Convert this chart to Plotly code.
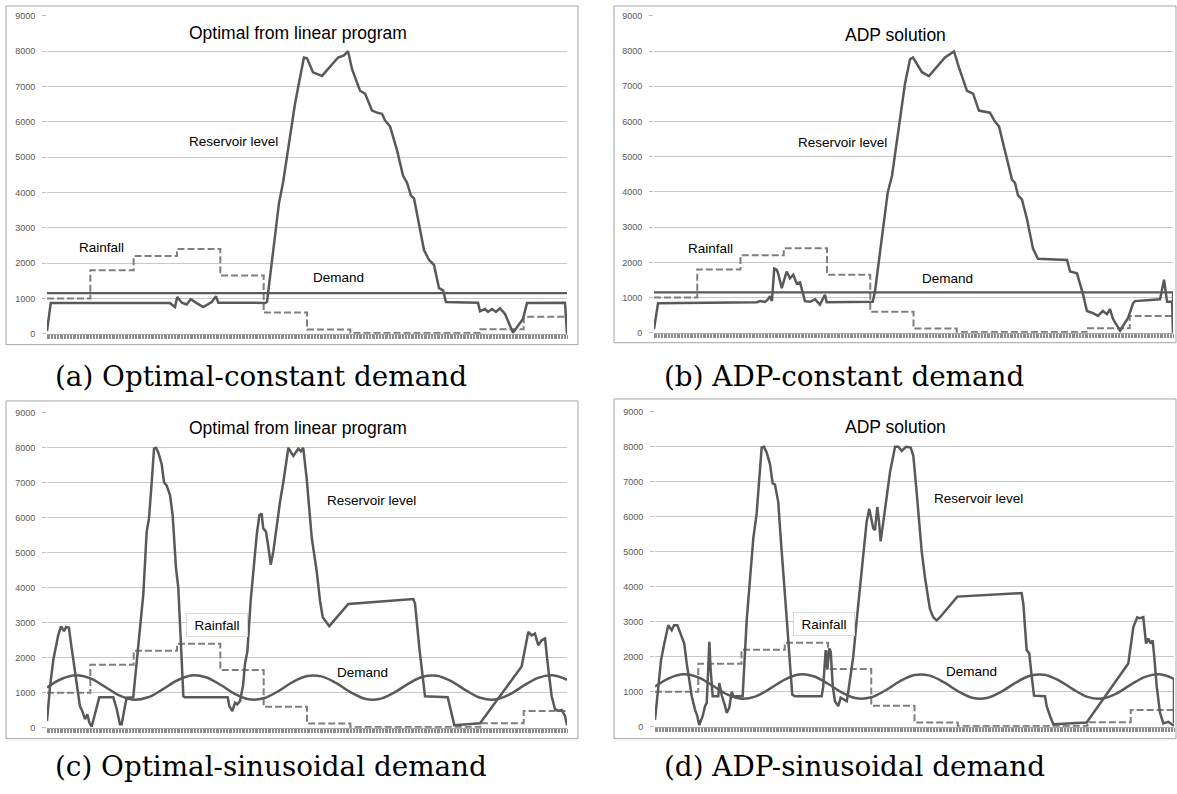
import plotly.graph_objects as go

# ---------------- data (days 0..360, 12 months of 30 days) ----------------
month_start = [0, 30, 60, 90, 120, 150, 180, 210, 240, 270, 300, 330, 360]
rainfall = [1000, 1800, 2200, 2400, 1650, 600, 120, 20, 20, 20, 130, 480]

const_demand_day = [0, 360]
const_demand_val = [1150, 1150]
const_demand_b_day = [0, 360, 360]
const_demand_b_val = [1150, 1150, 0]

sin_demand_day = list(range(0, 361, 10))
sin_demand_val = [1150, 1393, 1500, 1411, 1177, 927, 802, 871, 1096, 1351, 1494, 1444,
                  1230, 972, 813, 843, 1044, 1305, 1479, 1469, 1281, 1019, 831, 820,
                  995, 1256, 1458, 1487, 1329, 1070, 856, 806, 948, 1203, 1428, 1498, 1373]
sin_demand_d_end_day = [360, 360]
sin_demand_d_end_val = [1373, 100]

res_a_day = [0, 2.6, 85, 88.6, 90.2, 93.3, 96.7, 99.5, 103.6, 108.2, 114, 117, 118.6, 151, 152.3,
             160.6, 163.4, 166.2, 168.9, 171.7, 175.2, 177.9, 180, 184.2, 190.4, 201.5, 205.6, 208.4,
             211.2, 216.7, 220.2, 225, 228.5, 231.9, 234, 237.5, 242.3, 246.5, 249.2, 252, 254.1,
             256.8, 261, 264.5, 267.9, 271.4, 274.2, 276.2, 298.4, 299.8, 303.2, 305.3, 308.1, 310.8,
             313.6, 317.1, 322.6, 329.5, 332.3, 358.6, 360]
res_a_val = [80, 875, 875, 760, 1040, 880, 830, 980, 870, 760, 900, 1060, 880, 875, 900,
             3700, 4275, 5030, 5670, 6510, 7260, 7820, 7800, 7400, 7300, 7820, 7880, 8000,
             7490, 6880, 6800, 6320, 6260, 6230, 6040, 5870, 5200, 4470, 4280, 3910, 3830,
             3240, 2370, 2090, 1950, 1290, 1230, 900, 880, 640, 700, 620, 700, 620,
             720, 560, 30, 420, 870, 880, 0]

res_b_day = [0, 2.8, 71.4, 73.5, 77, 79, 80.5, 81.8, 83.4, 85.1, 86, 88.6, 92, 94.3, 96.6, 99,
             101.3, 103.6, 104.7, 108.2, 111.7, 115.1, 118.6, 119.8, 149.8, 151.7, 153.3, 156.8,
             160.2, 162.1, 165.1, 167.2, 170.6, 174.1, 177.6, 179.6, 185.9, 190.7, 201.8, 208.1,
             211.5, 217.1, 221.3, 225.4, 233, 236.5, 239.3, 244.1, 248.3, 250.4, 252.5, 255.2,
             258.7, 262.9, 266.3, 286.5, 288.6, 293.4, 297.6, 300.3, 304.5, 308, 311.4, 314.2,
             316.3, 318.4, 323.3, 328.8, 332.3, 333.7, 351, 353.8, 355.2, 355.9, 359.4, 360]
res_b_val = [110, 840, 870, 900, 880, 950, 1040, 900, 1820, 1790, 1700, 1270, 1740, 1550, 1650, 1400,
             1430, 1090, 900, 880, 950, 800, 1080, 870, 870, 880, 1180, 2300,
             3500, 3980, 4460, 5100, 6140, 7070, 7770, 7820, 7400, 7290, 7820, 7990,
             7540, 6870, 6790, 6310, 6250, 6000, 5860, 5020, 4350, 4260, 3900, 3790,
             3230, 2390, 2100, 2070, 1740, 1690, 1090, 620, 560, 480, 620, 530,
             670, 390, 60, 420, 840, 900, 950, 1510, 1120, 880, 880, 0]

res_c_day = [0, 2.1, 4.4, 6.2, 7.8, 9.7, 11.8, 13.2, 15.2, 16.6, 18.7, 21, 22.8, 24.4, 26.3, 27.9,
             29.3, 30.9, 32.5, 34.4, 36.2, 45.9, 48.3, 50.5, 51.7, 54, 55.2, 59.7, 62.1, 64.4, 66.7,
             69, 70.6, 72.5, 74.1, 75.5, 77.1, 79.4, 81, 82.9, 85.2, 87, 87.9, 89.3, 90.9, 92.1, 93.3,
             94.4, 95.5, 125.1, 126.2, 128.3, 130.2, 131.7, 133.6, 135.7, 137.1, 138.7, 141, 143.3,
             145.2, 147, 148.6, 149.7, 151.6, 153.2, 154.9, 156.7, 159, 161.3, 163.6, 165.5, 167.1,
             170.5, 174, 175.8, 177.4, 179.8, 183.3, 186.7, 189, 190.9, 193.6, 195.4, 197.8, 208.6,
             253.6, 254.8, 257.7, 261.7, 277.4, 279, 282, 299.8, 328.6, 333.2, 335.5, 337.8, 340.1,
             342.5, 344.8, 347.1, 349.4, 351.7, 354, 356.3, 358.6, 360]
res_c_val = [200, 1185, 1950, 2310, 2650, 2900, 2760, 2880, 2860, 2410, 1840, 1185, 620, 480, 245, 385,
             150, 30, 300, 600, 870, 870, 530, 100, 100, 620, 860, 870, 1840, 2880, 3820,
             5600, 5980, 7015, 7975, 8000, 7860, 7530, 7015, 6920, 6640, 6070, 5420, 4570, 4000, 3070, 1840,
             900, 870, 870, 620, 480, 715, 670, 760, 1200, 1840, 2170, 3630, 4760,
             5510, 6070, 6120, 5700, 5600, 5180, 4660, 5040, 5790, 6450, 7015, 7580, 8000,
             7765, 7975, 7900, 8000, 7110, 5420, 4480, 3630, 3160, 3020, 2900, 3020, 3540,
             3680, 3540, 2310, 900, 870, 620, 75, 130, 1750, 2740, 2640, 2690, 2360,
             2500, 2550, 1655, 900, 530, 480, 510, 340, 75]

res_d_day = [0, 2.3, 4.2, 6.2, 9.2, 11.6, 13.2, 15.5, 17.3, 20.3, 22, 23.8, 25.5, 27.7, 29.3, 30.7,
             33.1, 34.7, 35.9, 37.7, 38.6, 40, 43.9, 44.6, 46.3, 48.6, 49.7, 51.5, 53.2, 54.3, 60.8,
             63.6, 65.9, 68.2, 70.5, 72.3, 74, 75.6, 77.5, 79.8, 81.6, 83.2, 85.5, 87.2, 88.6, 90.2,
             91.8, 93.6, 95.2, 97.1, 115.6, 116.7, 118.4, 119.5, 120.9, 121.9, 123.3, 124.8, 127.1,
             128.8, 130.6, 133, 134.1, 135.3, 137.5, 139.9, 142.2, 144.5, 146.8, 148.6, 150.3, 151.4,
             152.6, 154.2, 155.4, 156.5, 158.4, 160.7, 163, 166.5, 168.8, 171.1, 174.1, 177.4, 179.2,
             181.5, 185, 187.3, 189.6, 190.7, 193, 195.4, 197.7, 209.7, 254.3, 255.5, 257.8, 259.6,
             261.3, 262.9, 270.5, 271.7, 274, 276.3, 299.4, 328.3, 331.8, 334.5, 336.4, 338.7, 340.6,
             342.2, 343.8, 345.2, 346.1, 348, 350.3, 352.6, 356.1, 358.5, 360]
res_d_val = [200, 1160, 1910, 2330, 2900, 2760, 2900, 2900, 2710, 2380, 1810, 1350, 875, 500, 310, 50,
             310, 590, 690, 2430, 1630, 875, 875, 1250, 900, 590, 400, 540, 1000, 875, 875,
             3040, 4350, 5390, 6090, 6990, 7980, 8000, 7830, 7500, 6960, 6920, 6420, 5390, 4630, 3980,
             2850, 1810, 920, 870, 870, 1160, 2190, 1630, 2240, 2140, 1160, 730, 590,
             830, 780, 730, 1015, 1350, 2000, 3040, 3980, 5100, 5860, 6230, 5860, 5670,
             5620, 6280, 5860, 5300, 5860, 6520, 7270, 8000, 8000, 7880, 8000, 7980, 7740,
             6700, 5010, 4260, 3600, 3370, 3130, 3040, 3130, 3720, 3820, 3510, 2190, 2100,
             1440, 890, 875, 590, 310, 75, 120, 1810, 2850, 3130, 3100, 3130, 2380,
             2520, 2380, 2470, 2100, 1160, 400, 95, 140, 75, 30]

y_ticks = [0, 1000, 2000, 3000, 4000, 5000, 6000, 7000, 8000, 9000]

titles = ["Optimal from linear program", "ADP solution", "Optimal from linear program", "ADP solution"]
captions = ["(a) Optimal-constant demand", "(b) ADP-constant demand",
            "(c) Optimal-sinusoidal demand", "(d) ADP-sinusoidal demand"]

# ---------------- layout geometry (pixels) ----------------
W, H = 1177, 794
def fx(x): return x / W
def fy(y): return 1 - y / H

panels = [
    dict(plot=(47, 11, 567, 333), box=(6, 1, 578, 344), title=(298, 28), res=(233.5, 138),
         rain=(101.5, 246), dem=(338.5, 276), cap=(53, 376), rainbox=False),
    dict(plot=(654, 11, 1173, 332), box=(614, 1, 1176, 342), title=(895.5, 30), res=(842, 139),
         rain=(710, 247), dem=(947, 277), cap=(662, 376), rainbox=False),
    dict(plot=(47, 413, 567, 732), box=(6, 401, 578, 743), title=(298, 428), res=(371, 502),
         rain=(217, 628), dem=(362.5, 676), cap=(53, 771), rainbox=True),
    dict(plot=(655, 412, 1174, 731), box=(614, 399, 1176, 743), title=(895, 427), res=(978.5, 500),
         rain=(824, 627), dem=(971, 675), cap=(662, 771), rainbox=True),
]

RES_COLOR = "#595959"
DEM_COLOR = "#5a5a5a"
RAIN_COLOR = "#7f7f7f"

fig = go.Figure()

res_days = [res_a_day, res_b_day, res_c_day, res_d_day]
res_vals = [res_a_val, res_b_val, res_c_val, res_d_val]

rain_x = month_start
rain_y = rainfall + [rainfall[-1]]

for i in range(4):
    xa = "x" if i == 0 else f"x{i+1}"
    ya = "y" if i == 0 else f"y{i+1}"
    # rainfall
    fig.add_trace(go.Scatter(x=rain_x, y=rain_y, mode="lines", xaxis=xa, yaxis=ya,
                             line=dict(color=RAIN_COLOR, width=2, dash="7px,3px", shape="hv"),
                             showlegend=False, hoverinfo="skip"))
    # demand
    if i == 0:
        fig.add_trace(go.Scatter(x=const_demand_day, y=const_demand_val, mode="lines", xaxis=xa, yaxis=ya,
                                 line=dict(color=DEM_COLOR, width=2.25), showlegend=False))
    elif i == 1:
        fig.add_trace(go.Scatter(x=const_demand_b_day, y=const_demand_b_val, mode="lines", xaxis=xa, yaxis=ya,
                                 line=dict(color=DEM_COLOR, width=2.25), showlegend=False))
    else:
        fig.add_trace(go.Scatter(x=sin_demand_day, y=sin_demand_val, mode="lines", xaxis=xa, yaxis=ya,
                                 line=dict(color=DEM_COLOR, width=2.5, shape="spline", smoothing=1.0),
                                 showlegend=False))
        if i == 3:
            fig.add_trace(go.Scatter(x=sin_demand_d_end_day, y=sin_demand_d_end_val, mode="lines",
                                     xaxis=xa, yaxis=ya, line=dict(color=DEM_COLOR, width=2.5),
                                     showlegend=False))
    # reservoir
    fig.add_trace(go.Scatter(x=res_days[i], y=res_vals[i], mode="lines", xaxis=xa, yaxis=ya,
                             line=dict(color=RES_COLOR, width=2.5), showlegend=False))

layout = dict(width=W, height=H, margin=dict(l=0, r=0, t=0, b=0),
              paper_bgcolor="white", plot_bgcolor="white", showlegend=False)

shapes = []
annotations = []
for i, p in enumerate(panels):
    x0, y0, x1, y1 = p["plot"]
    sfx = "" if i == 0 else str(i + 1)
    layout["xaxis" + sfx] = dict(domain=[fx(x0), fx(x1)], range=[0, 360], anchor="y" + sfx,
                                 showline=True, linecolor="#a6a6a6", linewidth=1,
                                 ticks="outside", tickmode="linear", tick0=0, dtick=1,
                                 ticklen=4, tickwidth=1, tickcolor="#8c8c8c",
                                 showticklabels=False, showgrid=False, zeroline=False)
    layout["yaxis" + sfx] = dict(domain=[fy(y1), fy(y0)], range=[0, 9000], anchor="x" + sfx,
                                 tickmode="array", tickvals=y_ticks, ticktext=[str(v) for v in y_ticks],
                                 ticks="outside", ticklen=4, tickwidth=1, tickcolor="#bfbfbf",
                                 showgrid=True, gridcolor="#c9c9c9", gridwidth=1,
                                 zeroline=False, showline=False, ticklabelstandoff=5,
                                 tickfont=dict(family="Liberation Sans", size=9, color="#595959"))
    bx0, by0, bx1, by1 = p["box"]
    shapes.append(dict(type="rect", xref="paper", yref="paper", x0=fx(bx0), x1=fx(bx1),
                       y0=fy(by1), y1=fy(by0), line=dict(color="#a6a6a6", width=1),
                       fillcolor="rgba(0,0,0,0)", layer="above"))
    font_sans = "Liberation Sans"
    annotations.append(dict(text=titles[i], x=fx(p["title"][0]), y=fy(p["title"][1]),
                            xref="paper", yref="paper", showarrow=False, xanchor="center", yanchor="middle",
                            font=dict(family=font_sans, size=17.5, color="black")))
    annotations.append(dict(text="Reservoir level", x=fx(p["res"][0]), y=fy(p["res"][1]),
                            xref="paper", yref="paper", showarrow=False, xanchor="center", yanchor="middle",
                            font=dict(family=font_sans, size=13.5, color="black")))
    rain_ann = dict(text="Rainfall", x=fx(p["rain"][0]), y=fy(p["rain"][1]),
                    xref="paper", yref="paper", showarrow=False, xanchor="center", yanchor="middle",
                    font=dict(family=font_sans, size=13.5, color="black"))
    if p["rainbox"]:
        rain_ann.update(bgcolor="white", bordercolor="#d9d9d9", borderwidth=1, borderpad=2,
                        width=56, height=18)
    annotations.append(rain_ann)
    annotations.append(dict(text="Demand", x=fx(p["dem"][0]), y=fy(p["dem"][1]),
                            xref="paper", yref="paper", showarrow=False, xanchor="center", yanchor="middle",
                            font=dict(family=font_sans, size=13.5, color="black")))
    annotations.append(dict(text=captions[i], x=fx(p["cap"][0]), y=fy(p["cap"][1]),
                            xref="paper", yref="paper", showarrow=False, xanchor="left", yanchor="middle",
                            font=dict(family="DejaVu Serif", size=27.8, color="black")))

layout["shapes"] = shapes
layout["annotations"] = annotations
fig.update_layout(**layout)

fig.write_html("out.html", config={"displayModeBar": False, "staticPlot": True},
               post_script="document.body.style.margin='0';document.body.style.overflow='hidden';")
